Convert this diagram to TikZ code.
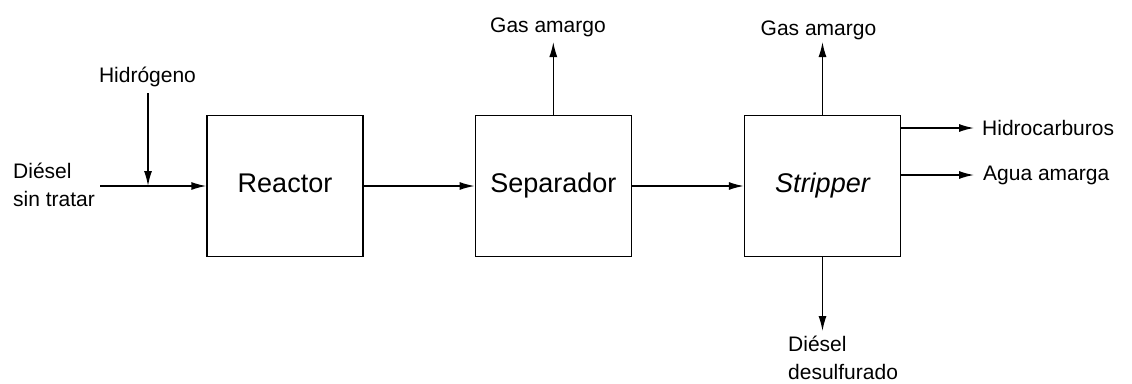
\documentclass[tikz,border=0pt]{standalone}
\usepackage{fontspec}
\setmainfont{Liberation Sans}
\usetikzlibrary{arrows.meta}
\begin{document}
\begin{tikzpicture}[x=1pt,y=-1pt,
  unitbox/.style={draw, line width=1.4pt, minimum width=156pt, minimum height=141pt, inner sep=0pt,
    font=\fontsize{27}{32}\selectfont, text height=19.5pt, text depth=6pt},
  lbl/.style={inner sep=0pt, font=\fontsize{21}{28}\selectfont},
  lbltwo/.style={inner sep=0pt, font=\fontsize{21}{28}\selectfont},
  flow/.style={line width=1.4pt, -{Latex[length=15pt,width=8pt]}},
]
\useasboundingbox (0,0) rectangle (1132,383);
% units
\node[unitbox] (reactor) at (285,186) {Reactor};
\node[unitbox] (sep) at (553.3,186) {Separador};
\node[unitbox] (strip) at (822.5,186) {\itshape Stripper};
% labels
\node[lbl, anchor=base] (h2) at (147.5,82) {Hidrógeno};
\node[lbl, anchor=base west, align=left] (diesel) at (13,206) {Diésel\\sin tratar};
\node[lbl, anchor=base] (gas1) at (548,32) {Gas amargo};
\node[lbl, anchor=base] (gas2) at (818.5,35) {Gas amargo};
\node[lbl, anchor=base west] (hc) at (982,135) {Hidrocarburos};
\node[lbl, anchor=base west] (agua) at (983,180) {Agua amarga};
\node[lbltwo, anchor=base west, align=left] (dd) at (788,379.5) {Diésel\\desulfurado};
% connector free ends
\coordinate (in) at (100,186);
\coordinate (j) at (148,186);
\coordinate (h2top) at (148,93);
\coordinate (g1) at (553.3,42);
\coordinate (g2) at (822.5,42);
\coordinate (hcend) at (974,128);
\coordinate (agend) at (974,175);
\coordinate (ddend) at (822.5,331);
% connectors
\draw[flow] (in) -- (reactor.west);
\draw[flow] (h2top) -- (j);
\draw[flow] (reactor.east) -- (sep.west);
\draw[flow] (sep.east) -- (strip.west);
\draw[flow] (sep.north) -- (g1);
\draw[flow] (strip.north) -- (g2);
\draw[flow] (strip.east |- hcend) -- (hcend);
\draw[flow] (strip.east |- agend) -- (agend);
\draw[flow] (strip.south) -- (ddend);
\end{tikzpicture}
\end{document}
